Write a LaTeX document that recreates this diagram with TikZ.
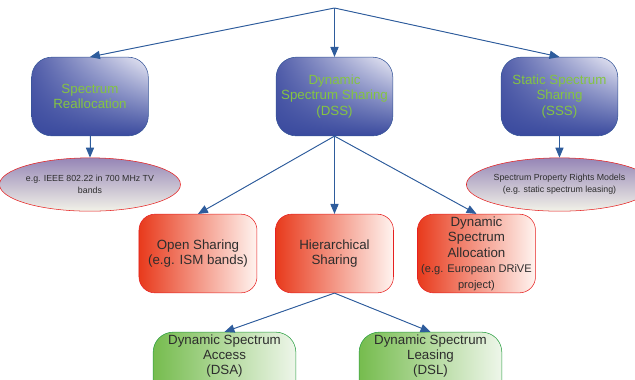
\documentclass[tikz,border=0pt]{standalone}
\usepackage{fontspec}
\setmainfont{Liberation Sans}
\usetikzlibrary{shapes,arrows,shadings}

\definecolor{bdark}{RGB}{58,74,158}
\definecolor{bmid}{RGB}{82,94,170}
\definecolor{blight}{RGB}{236,236,246}
\definecolor{bline}{RGB}{52,84,152}
\definecolor{sgreen}{RGB}{132,196,66}
\definecolor{rdark}{RGB}{232,58,28}
\definecolor{rlight}{RGB}{255,244,240}
\definecolor{rline}{RGB}{230,32,32}
\definecolor{gdark}{RGB}{118,188,78}
\definecolor{glight}{RGB}{238,246,234}
\definecolor{gline}{RGB}{40,158,64}
\definecolor{etop}{RGB}{150,134,182}
\definecolor{ebot}{RGB}{242,242,232}
\definecolor{aline}{RGB}{46,92,156}
\definecolor{txt}{RGB}{45,45,45}

\tikzstyle{bbox} = [rectangle, rounded corners=15pt, minimum width=87.5pt, minimum height=59pt, align=center, draw=bline, lower left=bdark, lower right=bdark, upper left=bmid, upper right=blight, text=sgreen, font=\fontsize{10}{11.6}\selectfont]
\tikzstyle{rbox} = [rectangle, rounded corners=12pt, minimum width=88.5pt, minimum height=59pt, align=center, draw=rline, left color=rdark, right color=rlight, text=txt, font=\fontsize{10}{11.6}\selectfont, inner sep=1pt]
\tikzstyle{gbox} = [rectangle, rounded corners=15pt, minimum width=107pt, minimum height=59pt, draw=gline, left color=gdark, right color=glight]
\tikzstyle{gtext} = [align=center, text=txt, font=\fontsize{10}{11.4}\selectfont, inner sep=2pt]
\tikzstyle{ell} = [ellipse, minimum width=117pt, minimum height=40pt, inner sep=0pt, align=center, draw=rline, top color=etop, bottom color=ebot, text=txt, font=\fontsize{6.6}{9}\selectfont]
\tikzstyle{a} = [-triangle 45, draw=aline, fill=aline, line width=0.7pt]

\begin{document}
\begin{tikzpicture}[node distance = 66pt]
		\useasboundingbox (-250.9pt,-211.9pt) rectangle (225.4pt,72.4pt);
		\node[bbox](dss){Dynamic\\Spectrum Sharing\\(DSS)};
		\coordinate[above of=dss, node distance=66.4pt](top);
		\node[bbox,left of=dss, node distance=183.4pt](realloc){Spectrum\\Reallocation};
		\node[bbox,right of=dss, node distance=168.75pt](sss){Static Spectrum\\Sharing\\(SSS)};
		\node[ell,below of=realloc](ieee){e.g. IEEE 802.22 in 700 MHz TV\\bands};
		\node[ell,below of=sss](rights){Spectrum Property Rights Models\\(e.g. static spectrum leasing)};
		\node[rbox,below of=dss, node distance=117.75pt](hier){Hierarchical\\Sharing};
		\node[rbox,left of=hier, node distance=102.4pt](open){Open Sharing\\(e.g. ISM bands)};
		\node[rbox,right of=hier, node distance=106.5pt](dsalloc){Dynamic\\Spectrum\\Allocation\\{\fontsize{8.3}{10.4}\selectfont (e.g. European DRiVE}\\{\fontsize{8.3}{10.4}\selectfont project)}};
		\node[gbox,below of=hier, node distance=88.5pt, xshift=-82.5pt,
			label={[gtext,name=dsatext,anchor=north]north:Dynamic Spectrum\\Access\\(DSA)}](dsa){};
		\node[gbox,below of=hier, node distance=88.5pt, xshift=72pt,
			label={[gtext,name=dsltext,anchor=north]north:Dynamic Spectrum\\Leasing\\(DSL)}](dsl){};
		
		\draw[a](top)--(realloc.north);
		\draw[a](top)--(dss.north);
		\draw[a](top)--(sss.north);
		\draw[a](realloc)--(ieee);
		\draw[a](sss)--(rights);
		\draw[a](dss.south)--(open.north);
		\draw[a](dss.south)--(hier.north);
		\draw[a](dss.south)--(dsalloc.north);
		\draw[a](hier.south)--(dsa.north);
		\draw[a](hier.south)--(dsl.north);
	\end{tikzpicture}
\end{document}
